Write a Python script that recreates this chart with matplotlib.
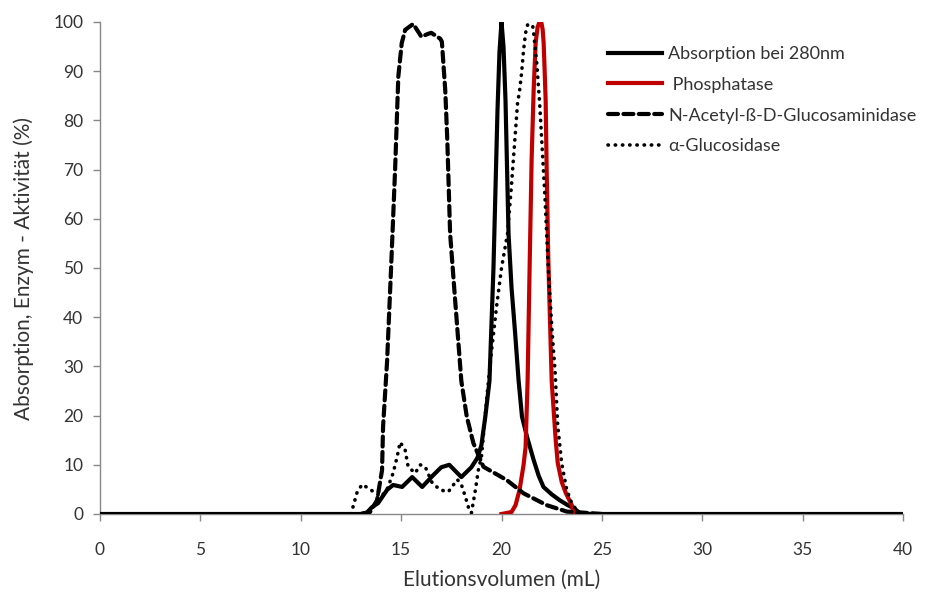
import matplotlib
matplotlib.use("Agg")
import matplotlib.pyplot as plt

plt.rcParams['font.family'] = ['Lato', 'DejaVu Sans']

# Absorption bei 280nm (solid black)
abs_x = [0, 13.0, 13.3, 13.55, 13.85, 14.3, 14.6, 15.05, 15.55, 16.05, 16.6, 17.0, 17.4, 18.0,
         18.5, 18.8, 19.0, 19.2, 19.4, 19.6, 19.8, 19.9, 20.0, 20.1, 20.2, 20.35, 20.5, 20.68,
         20.85, 21.02, 21.27, 21.6, 21.85, 22.09, 22.5, 22.9, 23.3, 23.6, 23.9, 24.5, 25.0, 40]
abs_y = [0, 0, 0.3, 1.4, 2.2, 4.9, 5.9, 5.5, 7.5, 5.5, 7.9, 9.5, 10.0, 7.5,
         9.5, 11.4, 14.0, 20.0, 27.0, 50.0, 82.0, 94.0, 100.0, 95.0, 84.0, 57.0, 46.0, 36.7,
         27.2, 19.8, 15.7, 11.0, 7.8, 5.5, 4.0, 2.8, 1.8, 1.2, 0.2, 0, 0, 0]

# Phosphatase (red)
pho_x = [20.0, 20.5, 20.7, 20.9, 21.1, 21.2, 21.3, 21.4, 21.5, 21.6, 21.7, 21.8, 21.95,
         22.05, 22.1, 22.15, 22.2, 22.25, 22.33, 22.5, 22.7, 22.8, 23.0, 23.2, 23.5, 23.6]
pho_y = [0, 0.4, 1.8, 4.9, 10.0, 13.6, 27.0, 50.0, 72.0, 86.0, 95.7, 99.0, 100.6,
         98.5, 95.7, 90.0, 84.0, 70.0, 52.0, 27.0, 15.0, 10.4, 6.5, 4.3, 1.8, 0.3]

# N-Acetyl-ß-D-Glucosaminidase (dashed)
nag_x = [13.0, 13.45, 13.8, 14.05, 14.1, 14.3, 14.5, 14.7, 14.86, 15.03, 15.2, 15.6, 15.95,
         16.0, 16.35, 16.5, 16.95, 17.03, 17.2, 17.3, 17.44, 17.69, 18.0, 18.27, 18.6, 19.1,
         20.26, 21.1, 22.25, 23.25, 24.0, 25.0]
nag_y = [0, 0.4, 2.8, 8.9, 17.7, 31.0, 50.0, 70.0, 88.9, 95.7, 98.4, 99.6, 97.4,
         97.0, 97.6, 97.8, 96.6, 96.0, 86.0, 76.0, 57.0, 43.5, 27.0, 19.8, 14.4, 9.6,
         6.9, 4.2, 1.8, 0.5, 0.3, 0]

# α-Glucosidase (dotted)
glu_x = [12.5, 12.6, 12.8, 13.05, 13.35, 13.7, 14.0, 14.3, 14.6, 14.8, 14.95, 15.2, 15.35,
         15.7, 15.95, 16.2, 16.55, 16.95, 17.35, 17.8, 18.0, 18.2, 18.35, 18.5, 18.7, 18.85,
         19.0, 19.3, 19.5, 19.75, 20.0, 20.3, 20.5, 20.8, 20.9, 21.0, 21.1, 21.2, 21.3, 21.55,
         21.6, 21.75, 21.9, 22.17, 22.33, 22.52, 22.67, 22.8, 23.0, 23.25, 23.5, 23.67, 23.9]
glu_y = [0, 1.4, 4.3, 6.0, 5.3, 4.3, 3.5, 5.0, 8.3, 11.6, 14.6, 13.0, 9.6,
         8.3, 10.0, 9.6, 6.3, 4.9, 4.5, 7.0, 6.0, 3.5, 1.4, 0.2, 4.9, 9.0,
         11.6, 25.0, 33.0, 42.0, 50.0, 57.0, 67.0, 83.5, 86.0, 89.6, 94.3, 97.8, 99.4, 99.4,
         97.8, 92.0, 83.5, 64.0, 50.0, 37.0, 29.0, 18.0, 10.3, 4.9, 2.2, 1.2, 0]

labels = ["Absorption bei 280nm", " Phosphatase", "N-Acetyl-ß-D-Glucosaminidase", "α-Glucosidase"]
x_ticks = [0, 5, 10, 15, 20, 25, 30, 35, 40]
y_ticks = [0, 10, 20, 30, 40, 50, 60, 70, 80, 90, 100]

fig = plt.figure(figsize=(9.29, 5.94), dpi=100)
ax = fig.add_axes([100 / 929, 1 - 514 / 594, 803 / 929, 492 / 594])

lw = 3.0
ax.plot(abs_x, abs_y, color='black', lw=lw, solid_joinstyle='round', label=labels[0])
ax.plot(pho_x, pho_y, color='#c00000', lw=lw, solid_joinstyle='round', label=labels[1])
ax.plot(nag_x, nag_y, color='black', lw=lw, linestyle=(0, (2.4, 1.3)), dash_capstyle='round',
        label=labels[2])
ax.plot(glu_x, glu_y, color='black', lw=2.6, linestyle=(0, (0.1, 1.9)), dash_capstyle='round',
        label=labels[3])

ax.set_xlim(0, 40)
ax.set_ylim(0, 100)
ax.set_xticks(x_ticks)
ax.set_yticks(y_ticks)
for s in ['top', 'right']:
    ax.spines[s].set_visible(False)
for s in ['left', 'bottom']:
    ax.spines[s].set_color('#888888')
    ax.spines[s].set_linewidth(1.0)
    ax.spines[s].set_zorder(0)
ax.tick_params(axis='both', colors='#888888', length=5, width=1.0, labelcolor='#333333',
               labelsize=12.5)
ax.tick_params(axis='x', pad=15)
ax.tick_params(axis='y', pad=7)

ax.set_xlabel("Elutionsvolumen (mL)", fontsize=15, color='#333333', labelpad=9)
ax.set_ylabel("Absorption, Enzym - Aktivität (%)", fontsize=15, color='#333333', labelpad=14)

leg = ax.legend(loc='upper left', bbox_to_anchor=(608 / 929, 1 - 46 / 594),
                bbox_transform=fig.transFigure, frameon=False, fontsize=13,
                handlelength=3.0, handletextpad=0.35, labelspacing=0.82, borderpad=0,
                borderaxespad=0)
for t in leg.get_texts():
    t.set_color('#333333')

fig.savefig("out.png", dpi=100)
